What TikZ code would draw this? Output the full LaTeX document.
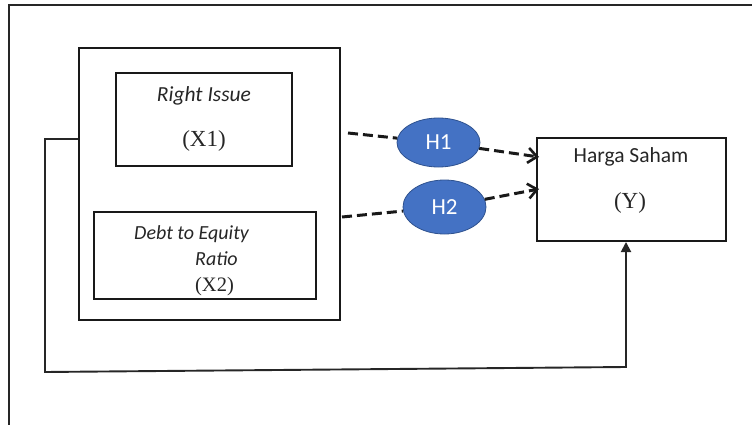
\documentclass[tikz,border=0pt]{standalone}
\usepackage{fontspec}
\setmainfont{Liberation Serif}
\newfontfamily\calibri{Carlito}
\usetikzlibrary{arrows.meta,shapes.geometric}
\definecolor{hypfill}{HTML}{4472C4}
\definecolor{hypline}{HTML}{2F528F}
\begin{document}
\begin{tikzpicture}[x=1pt,y=-1pt,
  box/.style={draw=black!90,line width=2pt,inner sep=0pt,minimum width=#1},
  hyp/.style={ellipse,fill=hypfill,draw=hypline,line width=0.8pt,inner sep=0pt,
    text=white,font=\calibri\fontsize{23}{26}\selectfont},
  lbl/.style={inner sep=0pt,font=\calibri\fontsize{#1}{24}\selectfont\itshape,text=black!85},
  lblup/.style={inner sep=0pt,font=\calibri\fontsize{21.5}{24}\selectfont,text=black!85},
  var/.style={inner sep=0pt,font=\fontsize{23}{26}\selectfont,text=black!85},
  dashlink/.style={line width=3pt,dash pattern=on 10pt off 5pt,black!90},
  feedback/.style={line width=1.9pt,black!85}]
  \useasboundingbox (0,0) rectangle (752,425);

  % open frame round the model
  \draw[line width=1.8pt,black!85] (752,5) -- (9,5) -- (9,425);

  % independent variables
  \node[box=261pt,minimum height=272pt] (big) at (209.5,184) {};
  \node[box=176pt,minimum height=93pt] (ri) at (204,119.5) {};
  \node[box=222pt,minimum height=87pt] (der) at (205,255.5) {};
  \node[lbl=21.5,anchor=base] (rit) at (204,102) {Right Issue};
  \node[var] (x1) at (204,141) {(X1)};
  \node[lbl=20,anchor=base west] (dert) at (134,239) {Debt to Equity};
  \node[lbl=20,anchor=base west] (ratio) at (195,265) {Ratio};
  \node[var,font=\fontsize{20.5}{24}\selectfont] (x2) at (214.5,287) {(X2)};

  % dependent variable
  \node[box=189pt,minimum height=103pt] (hs) at (631.5,189.5) {};
  \node[lblup,anchor=base] (hst) at (631,162) {Harga Saham};
  \node[var] (y) at (630,203) {(Y)};

  % hypotheses
  \node[hyp,minimum width=83pt,minimum height=49pt] (h1) at (438.5,142.5) {H1};
  \node[hyp,minimum width=83pt,minimum height=54pt] (h2) at (444.5,207) {H2};

  \coordinate (s1) at (348,133);
  \coordinate (s2) at (342,217);
  \coordinate (e1) at (539,157);
  \coordinate (e2) at (539,189);
  \draw[dashlink] (s1) -- (h1);
  \draw[dashlink,-{Straight Barb[length=9pt,width=15pt,line width=2.6pt]}] (h1) -- (e1);
  \draw[dashlink] (s2) -- (h2);
  \draw[dashlink,-{Straight Barb[length=9pt,width=15pt,line width=2.6pt]}] (h2) -- (e2);

  % direct path from X1, X2 together to Y
  \coordinate (f0) at (big.west |- 0,139);
  \coordinate (f1) at (45,139);
  \coordinate (f2) at (45,372);
  \coordinate (f3) at (626,367);
  \draw[feedback,-{Triangle[length=10pt,width=10pt]}]
    (f0) -- (f1) -- (f2) -- (f3) -- (f3 |- hs.south);
\end{tikzpicture}
\end{document}
